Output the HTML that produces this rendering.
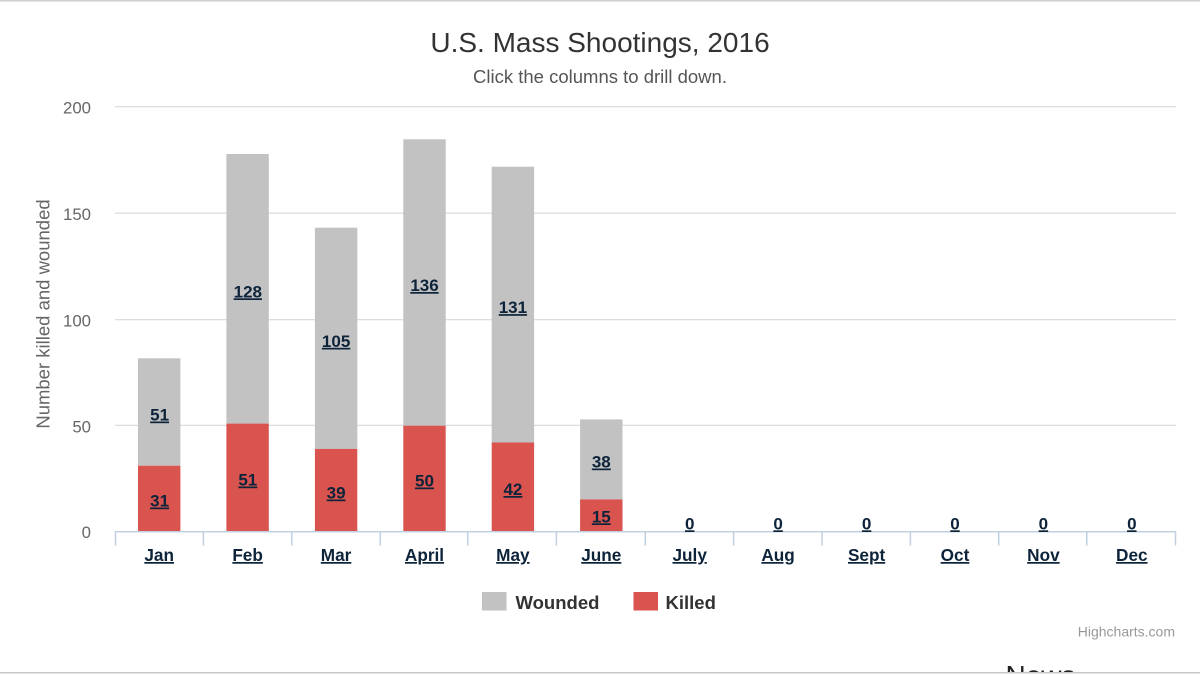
<!DOCTYPE html>
<html>
<head>
<meta charset="utf-8">
<style>
html,body{margin:0;padding:0;background:#fff;}
body{width:1200px;height:675px;overflow:hidden;position:relative;}
svg{display:block;font-family:"Liberation Sans",Arial,sans-serif;}
</style>
</head>
<body>
<svg width="1200" height="675" viewBox="0 0 1200 675" xmlns="http://www.w3.org/2000/svg">
  <rect x="0" y="0" width="1200" height="675" fill="#fff"/>
  <!-- top border -->
  <rect x="0" y="0" width="1200" height="1.5" fill="#cfcfcf"/>

  <!-- title -->
  <text x="600" y="52" text-anchor="middle" font-size="28" fill="#333">U.S. Mass Shootings, 2016</text>
  <text x="600" y="83" text-anchor="middle" font-size="18.5" fill="#555">Click the columns to drill down.</text>

  <!-- gridlines -->
  <g stroke="#d8d8d8" stroke-width="1.2">
    <line x1="115" y1="106.7" x2="1176" y2="106.7"/>
    <line x1="115" y1="213.2" x2="1176" y2="213.2"/>
    <line x1="115" y1="319.7" x2="1176" y2="319.7"/>
    <line x1="115" y1="425.3" x2="1176" y2="425.3"/>
  </g>

  <!-- y labels -->
  <g font-size="16.8" fill="#666" text-anchor="end">
    <text x="91" y="113.5">200</text>
    <text x="91" y="220">150</text>
    <text x="91" y="326.5">100</text>
    <text x="91" y="432.5">50</text>
    <text x="91" y="538">0</text>
  </g>

  <!-- y title -->
  <text transform="translate(49.5,314) rotate(-90)" text-anchor="middle" font-size="18.5" fill="#666">Number killed and wounded</text>

  <!-- bars: wounded (gray) -->
  <g fill="#c2c2c2">
    <rect x="138.0" y="358.3" width="42.4" height="107.4"/>
    <rect x="226.4" y="154.0" width="42.4" height="269.6"/>
    <rect x="314.9" y="227.7" width="42.4" height="221.2"/>
    <rect x="403.3" y="139.3" width="42.4" height="286.4"/>
    <rect x="491.7" y="166.7" width="42.4" height="275.8"/>
    <rect x="580.1" y="419.4" width="42.4" height="80.0"/>
  </g>
  <!-- bars: killed (red) -->
  <g fill="#d9534f">
    <rect x="138.0" y="465.7" width="42.4" height="65.8"/>
    <rect x="226.4" y="423.6" width="42.4" height="107.9"/>
    <rect x="314.9" y="448.9" width="42.4" height="82.6"/>
    <rect x="403.3" y="425.7" width="42.4" height="105.8"/>
    <rect x="491.7" y="442.5" width="42.4" height="89.0"/>
    <rect x="580.1" y="499.4" width="42.4" height="32.1"/>
  </g>

  <!-- x axis line & ticks -->
  <g stroke="#c0d0e0" stroke-width="1.5">
    <line x1="115" y1="531.8" x2="1176" y2="531.8"/>
    <line x1="115.5" y1="531" x2="115.5" y2="545.5"/>
    <line x1="203.4" y1="531" x2="203.4" y2="545.5"/>
    <line x1="291.8" y1="531" x2="291.8" y2="545.5"/>
    <line x1="380.3" y1="531" x2="380.3" y2="545.5"/>
    <line x1="467.7" y1="531" x2="467.7" y2="545.5"/>
    <line x1="556.4" y1="531" x2="556.4" y2="545.5"/>
    <line x1="645.3" y1="531" x2="645.3" y2="545.5"/>
    <line x1="733.6" y1="531" x2="733.6" y2="545.5"/>
    <line x1="822.0" y1="531" x2="822.0" y2="545.5"/>
    <line x1="910.4" y1="531" x2="910.4" y2="545.5"/>
    <line x1="998.7" y1="531" x2="998.7" y2="545.5"/>
    <line x1="1086.8" y1="531" x2="1086.8" y2="545.5"/>
    <line x1="1175.5" y1="531" x2="1175.5" y2="545.5"/>
  </g>

  <!-- data labels -->
  <g font-size="17" font-weight="bold" fill="#0d233a" text-anchor="middle" text-decoration="underline">
    <text x="159.6" y="420.5">51</text>
    <text x="247.8" y="297.3">128</text>
    <text x="336.1" y="346.8">105</text>
    <text x="424.5" y="291">136</text>
    <text x="512.9" y="313.1">131</text>
    <text x="601.3" y="467.5">38</text>

    <text x="159.6" y="506.5">31</text>
    <text x="247.8" y="485.5">51</text>
    <text x="336.1" y="498.5">39</text>
    <text x="424.5" y="486.5">50</text>
    <text x="512.9" y="495">42</text>
    <text x="601.3" y="522.3">15</text>

    <text x="689.7" y="529.3">0</text>
    <text x="778.1" y="529.3">0</text>
    <text x="866.6" y="529.3">0</text>
    <text x="955.0" y="529.3">0</text>
    <text x="1043.4" y="529.3">0</text>
    <text x="1131.8" y="529.3">0</text>
  </g>

  <!-- x labels -->
  <g font-size="17.2" font-weight="bold" fill="#0d233a" text-anchor="middle" text-decoration="underline">
    <text x="159.2" y="561">Jan</text>
    <text x="247.6" y="561">Feb</text>
    <text x="336.1" y="561">Mar</text>
    <text x="424.5" y="561">April</text>
    <text x="512.9" y="561">May</text>
    <text x="601.3" y="561">June</text>
    <text x="689.7" y="561">July</text>
    <text x="778.1" y="561">Aug</text>
    <text x="866.6" y="561">Sept</text>
    <text x="955.0" y="561">Oct</text>
    <text x="1043.4" y="561">Nov</text>
    <text x="1131.8" y="561">Dec</text>
  </g>

  <!-- legend -->
  <rect x="482" y="592" width="24.5" height="18.5" fill="#c2c2c2"/>
  <text x="515.5" y="609" font-size="18.5" font-weight="bold" fill="#333">Wounded</text>
  <rect x="633.5" y="592" width="24.5" height="18.5" fill="#d9534f"/>
  <text x="665.5" y="609" font-size="18.5" font-weight="bold" fill="#333">Killed</text>

  <!-- credits -->
  <text x="1175" y="636.5" text-anchor="end" font-size="14" fill="#999">Highcharts.com</text>

  <!-- clipped "News" text -->
  <defs>
    <clipPath id="clipNews"><rect x="0" y="0" width="1200" height="672"/></clipPath>
  </defs>
  <text x="1005.5" y="685" font-size="28" fill="#222" clip-path="url(#clipNews)">News</text>

  <!-- bottom border -->
  <rect x="0" y="672" width="1200" height="1.5" fill="#c8c8c8"/>
</svg>
</body>
</html>
